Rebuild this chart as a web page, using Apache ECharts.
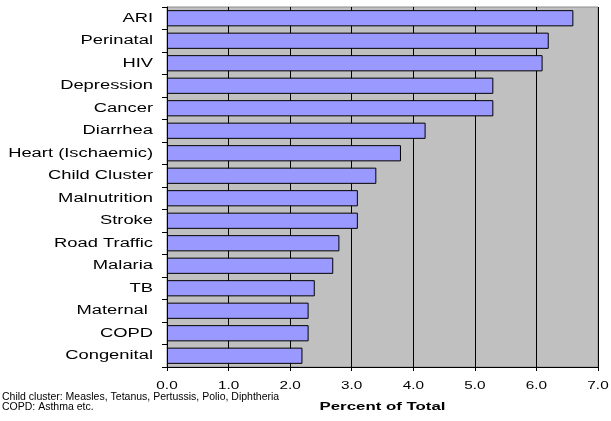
<!DOCTYPE html>
<html>
<head>
<meta charset="utf-8">
<script src="https://cdn.jsdelivr.net/npm/echarts@6/dist/echarts.min.js"></script>
<style>
  html, body { margin: 0; padding: 0; background: #fff; }
  #chart { width: 611px; height: 421px; }
</style>
</head>
<body>
<div id="chart"></div>
<script>
// Share of total burden by cause (percent)
const causes = ['ARI', 'Perinatal', 'HIV', 'Depression', 'Cancer', 'Diarrhea',
  'Heart (Ischaemic)', 'Child Cluster', 'Malnutrition', 'Stroke', 'Road Traffic',
  'Malaria', 'TB', 'Maternal ', 'COPD', 'Congenital'];
const percentOfTotal = [6.6, 6.2, 6.1, 5.3, 5.3, 4.2, 3.8, 3.4, 3.1, 3.1, 2.8,
  2.7, 2.4, 2.3, 2.3, 2.2];
const footnotes = [
  'Child cluster: Measles, Tetanus, Pertussis, Polio, Diphtheria',
  'COPD: Asthma etc.'
];

// Axis texts use a horizontally widened face; the footnote stays normal width.
const AXIS_FONT = '"Liberation Sans"';
const NOTE_FONT = 'Arial, sans-serif';
const WIDEN = 1.53;
const nativeFillText = CanvasRenderingContext2D.prototype.fillText;
CanvasRenderingContext2D.prototype.fillText = function (text, x, y, maxWidth) {
  if (this.font.indexOf('Liberation Sans') < 0) {
    return maxWidth === undefined ? nativeFillText.call(this, text, x, y)
                                  : nativeFillText.call(this, text, x, y, maxWidth);
  }
  this.save();
  this.translate(x, y);
  this.scale(WIDEN, 1);
  nativeFillText.call(this, text, 0, 0);
  this.restore();
};

const chart = echarts.init(document.getElementById('chart'), null, { renderer: 'canvas' });

chart.setOption({
  animation: false,
  backgroundColor: '#ffffff',
  grid: {
    left: 167, top: 7, width: 431, height: 360,
    show: true, backgroundColor: '#c0c0c0',
    borderColor: '#8c8c8c', borderWidth: 1
  },
  xAxis: {
    type: 'value', min: 0, max: 7, interval: 1,
    name: 'Percent of Total', nameLocation: 'middle', nameGap: 34,
    nameTextStyle: { fontFamily: AXIS_FONT, fontSize: 11, fontWeight: 'bold', color: '#000' },
    axisLine: { show: true, lineStyle: { color: '#000', width: 1 } },
    axisTick: { show: true, length: 4, lineStyle: { color: '#000' } },
    axisLabel: {
      margin: 14, color: '#000', fontFamily: AXIS_FONT, fontSize: 10,
      formatter: v => v.toFixed(1)
    },
    splitLine: { show: true, lineStyle: { color: '#000', width: 1 } }
  },
  yAxis: {
    type: 'category', data: causes, inverse: true,
    axisLine: { show: true, lineStyle: { color: '#000', width: 1 } },
    axisTick: { show: true, length: 5, alignWithLabel: false, lineStyle: { color: '#000' } },
    axisLabel: { margin: 14, color: '#000', fontFamily: AXIS_FONT, fontSize: 12 },
    splitLine: { show: false }
  },
  series: [{
    type: 'bar',
    data: percentOfTotal,
    barCategoryGap: '28%',
    itemStyle: { color: '#9999ff', borderColor: '#000', borderWidth: 1 }
  }],
  graphic: footnotes.map((t, i) => ({
    type: 'text', left: 2, top: 392 + i * 9.5,
    style: { text: t, fill: '#000', font: '10.5px ' + NOTE_FONT }
  }))
});
</script>
</body>
</html>
